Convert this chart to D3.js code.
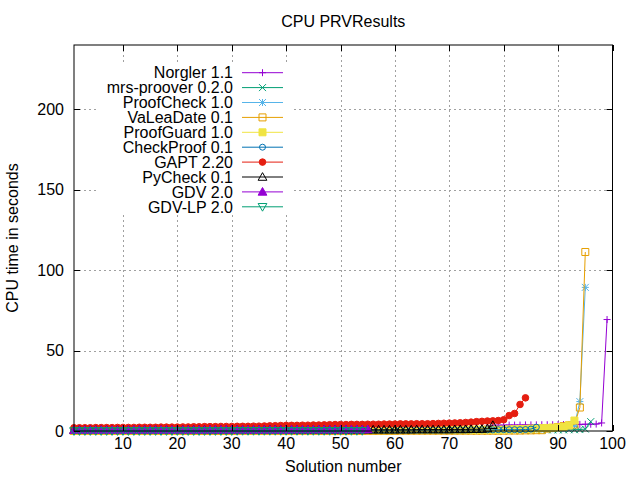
<!DOCTYPE html>
<html>
<head>
<meta charset="utf-8">
<script src="https://cdn.jsdelivr.net/npm/d3@7"></script>
<style>
  body { margin: 0; background: #fff; }
  svg { display: block; font-family: "Liberation Sans", Arial, sans-serif; }
</style>
</head>
<body>
<svg id="chart" width="640" height="480"></svg>
<script>
// --- values (sorted CPU times, index = solution number) ---
const norgler = [
  0.3,0.3,0.3,0.4,0.4,0.4,0.4,0.4,0.5,0.5,
  0.5,0.5,0.5,0.5,0.6,0.6,0.6,0.6,0.6,0.6,
  0.7,0.7,0.7,0.7,0.7,0.7,0.8,0.8,0.8,0.8,
  0.8,0.8,0.9,0.9,0.9,0.9,0.9,1.0,1.0,1.0,
  1.0,1.0,1.0,1.1,1.1,1.1,1.1,1.1,1.2,1.2,
  1.2,1.2,1.2,1.2,1.3,1.3,1.3,1.3,1.3,1.3,
  1.4,1.4,1.4,1.4,1.4,1.5,1.5,1.5,1.5,1.5,
  1.6,1.6,1.7,1.8,2.0,2.4,3.0,3.5,3.6,3.6,
  3.7,3.7,3.7,3.8,3.8,3.8,3.9,3.9,3.9,4.0,
  4.0,4.0,4.1,4.1,4.2,4.2,4.3,5.0,69.3
];
const mrsProover = [
  0.1,0.1,0.1,0.1,0.1,0.1,0.1,0.1,0.1,0.1,
  0.1,0.1,0.1,0.1,0.1,0.1,0.1,0.1,0.1,0.1,
  0.1,0.1,0.1,0.1,0.1,0.1,0.1,0.1,0.2,0.2,
  0.2,0.2,0.2,0.2,0.2,0.2,0.2,0.2,0.2,0.2,
  0.2,0.2,0.2,0.2,0.2,0.2,0.2,0.3,0.3,0.3,
  0.3,0.3,0.3,0.3,0.3,0.3,0.3,0.3,0.3,0.3,
  0.3,0.3,0.3,0.4,0.4,0.4,0.4,0.4,0.4,0.4,
  0.4,0.4,0.4,0.4,0.5,0.5,0.5,0.5,0.5,0.5,
  0.5,0.5,0.6,0.6,0.6,0.6,0.6,0.7,0.7,0.7,
  0.7,0.8,0.8,0.9,1.2,5.8
];
const proofCheck = [
  0.1,0.1,0.1,0.1,0.1,0.1,0.1,0.1,0.1,0.1,
  0.1,0.1,0.1,0.1,0.1,0.2,0.2,0.2,0.2,0.2,
  0.2,0.2,0.2,0.2,0.2,0.2,0.2,0.2,0.2,0.2,
  0.2,0.2,0.3,0.3,0.3,0.3,0.3,0.3,0.3,0.3,
  0.3,0.3,0.3,0.3,0.4,0.4,0.4,0.4,0.4,0.4,
  0.4,0.4,0.4,0.5,0.5,0.5,0.5,0.5,0.5,0.5,
  0.5,0.6,0.6,0.6,0.6,0.6,0.6,0.7,0.7,0.7,
  0.7,0.7,0.8,0.8,0.8,0.8,0.9,0.9,0.9,1.0,
  1.0,1.0,1.1,1.1,1.1,1.2,1.2,1.3,1.4,1.5,
  1.7,2.0,3.5,18.3,89.3
];
const vaLeaDate = [
  0.0,0.0,0.0,0.0,0.0,0.0,0.0,0.0,0.0,0.0,
  0.0,0.0,0.0,0.0,0.0,0.0,0.0,0.0,0.0,0.0,
  0.0,0.0,0.0,0.0,0.0,0.0,0.0,0.0,0.0,0.0,
  0.1,0.1,0.1,0.1,0.1,0.1,0.1,0.1,0.1,0.1,
  0.1,0.1,0.1,0.1,0.1,0.1,0.1,0.1,0.1,0.1,
  0.1,0.1,0.1,0.1,0.1,0.1,0.1,0.1,0.1,0.1,
  0.2,0.2,0.2,0.2,0.2,0.2,0.2,0.2,0.2,0.2,
  0.2,0.2,0.2,0.2,0.2,0.2,0.2,0.2,0.2,0.2,
  0.3,0.3,0.3,0.4,0.4,0.5,0.5,1.5,2.0,2.5,
  3.0,3.5,4.0,14.6,111.3
];
const proofGuard = [
  0.4,0.4,0.4,0.4,0.4,0.4,0.4,0.4,0.4,0.4,
  0.4,0.4,0.4,0.4,0.4,0.4,0.4,0.4,0.4,0.4,
  0.5,0.5,0.5,0.5,0.5,0.5,0.5,0.5,0.5,0.5,
  0.5,0.5,0.5,0.5,0.5,0.5,0.5,0.5,0.5,0.5,
  0.5,0.5,0.5,0.5,0.5,0.6,0.6,0.6,0.6,0.6,
  0.6,0.6,0.6,0.6,0.6,0.6,0.6,0.6,0.6,0.6,
  0.7,0.7,0.7,0.7,0.7,0.7,0.7,0.7,0.7,0.7,
  0.7,0.7,0.8,0.8,0.8,0.8,0.8,0.8,0.8,0.8,
  1.0,1.1,1.2,1.3,1.5,1.6,1.8,1.9,2.0,2.2,
  2.5,3.5,6.5
];
const checkProof = [
  0.2,0.2,0.2,0.2,0.2,0.2,0.2,0.2,0.2,0.2,
  0.3,0.3,0.3,0.3,0.3,0.3,0.3,0.3,0.3,0.3,
  0.3,0.3,0.3,0.3,0.3,0.3,0.3,0.3,0.3,0.3,
  0.4,0.4,0.4,0.4,0.4,0.4,0.4,0.4,0.4,0.4,
  0.4,0.4,0.4,0.4,0.4,0.5,0.5,0.5,0.5,0.5,
  0.5,0.5,0.5,0.5,0.5,0.5,0.5,0.5,0.5,0.5,
  0.6,0.6,0.6,0.6,0.6,0.6,0.6,0.6,0.6,0.6,
  0.7,0.7,0.7,0.7,0.7,0.7,0.7,0.7,0.8,0.8,
  0.8,0.8,0.8,0.9,1.2,2.4
];
const gapt = [
  2.0,2.0,2.0,2.0,2.1,2.1,2.1,2.1,2.2,2.2,
  2.2,2.2,2.3,2.3,2.3,2.3,2.4,2.4,2.4,2.4,
  2.5,2.5,2.6,2.6,2.7,2.7,2.7,2.8,2.8,2.8,
  2.9,2.9,2.9,3.0,3.0,3.1,3.2,3.3,3.4,3.5,
  3.5,3.5,3.6,3.6,3.7,3.7,3.8,3.9,4.0,4.0,
  4.0,4.1,4.1,4.1,4.2,4.2,4.2,4.3,4.3,4.3,
  4.4,4.4,4.4,4.5,4.5,4.5,4.6,4.7,4.8,4.9,
  5.0,5.1,5.3,5.5,5.8,6.0,6.2,6.3,6.5,7.0,
  9.6,10.9,16.5,20.6
];
const pyCheck = [
  0.5,0.5,0.5,0.5,0.5,0.5,0.5,0.5,0.5,0.5,
  0.5,0.5,0.5,0.5,0.5,0.5,0.5,0.5,0.5,0.5,
  0.6,0.6,0.6,0.6,0.6,0.6,0.6,0.6,0.6,0.6,
  0.6,0.6,0.6,0.6,0.6,0.7,0.7,0.7,0.7,0.7,
  0.7,0.7,0.7,0.7,0.7,0.7,0.7,0.7,0.7,0.7,
  0.7,0.7,0.7,0.8,0.8,0.8,0.8,0.8,0.8,0.8,
  0.8,0.8,0.8,0.9,0.9,0.9,0.9,0.9,0.9,0.9,
  1.0,1.0,1.0,1.1,1.1,1.2,1.5,3.6
];
const gdv = [
  0.5,0.5,0.5,0.5,0.5,0.5,0.5,0.5,0.5,0.5,
  0.6,0.6,0.6,0.6,0.6,0.6,0.6,0.6,0.6,0.6,
  0.6,0.6,0.6,0.6,0.6,0.7,0.7,0.7,0.7,0.7,
  0.7,0.7,0.7,0.7,0.7,0.7,0.7,0.7,0.7,0.7,
  0.8,0.8,0.8,0.8,0.8,0.8,0.8,0.8,0.8,0.8,
  0.9,0.9,0.9,0.9,1.0
];
const gdvLp = [
  0.0,0.0,0.0,0.0,0.0,0.0,0.0,0.0,0.0,0.0,
  0.0,0.0,0.0,0.0,0.0,0.0,0.0,0.0,0.0,0.0,
  0.0,0.0,0.0,0.0,0.0,0.0,0.0,0.0,0.0,0.0,
  0.1,0.1,0.1,0.1,0.1,0.1,0.1,0.1,0.1,0.1,
  0.1,0.1,0.1,0.1,0.1,0.1,0.1,0.1,0.1,0.1,
  0.1,0.1,0.1,0.1
];

const seriesNames = ["Norgler 1.1", "mrs-proover 0.2.0", "ProofCheck 1.0", "VaLeaDate 0.1",
  "ProofGuard 1.0", "CheckProof 0.1", "GAPT 2.20", "PyCheck 0.1", "GDV 2.0", "GDV-LP 2.0"];
const seriesValues = [norgler, mrsProover, proofCheck, vaLeaDate, proofGuard,
  checkProof, gapt, pyCheck, gdv, gdvLp];
const seriesColors = ["#9400d3", "#009e73", "#56b4e9", "#e69f00", "#f0e442",
  "#0072b2", "#e51e10", "#000000", "#9400d3", "#009e73"];
const seriesMarks = ["plus", "cross", "star", "square", "squareFill",
  "circle", "circleFill", "triangle", "triangleFill", "triangleDown"];

const xTicks = [10, 20, 30, 40, 50, 60, 70, 80, 90, 100];
const yTicks = [0, 50, 100, 150, 200];

// --- layout ---
const svg = d3.select("#chart");
const plotLeft = 74, plotRight = 612.5, plotTop = 45, plotBottom = 431;

const x = d3.scaleLinear().domain([1, 100]).range([plotLeft, plotRight]);
const y = d3.scaleLinear().domain([0, 240]).range([plotBottom, plotTop]);

// background
svg.append("rect").attr("width", 640).attr("height", 480).attr("fill", "#fff");

// grid (dotted, behind)
const grid = svg.append("g")
  .attr("stroke", "#a0a0a0").attr("stroke-width", 1)
  .attr("stroke-dasharray", "2,3");
grid.selectAll("line.gx").data(xTicks.filter(d => d < 100)).join("line")
  .attr("x1", d => Math.round(x(d)) + 0.5).attr("x2", d => Math.round(x(d)) + 0.5)
  .attr("y1", plotTop).attr("y2", plotBottom);
grid.selectAll("line.gy").data(yTicks.filter(d => d > 0)).join("line")
  .attr("x1", plotLeft).attr("x2", plotRight)
  .attr("y1", d => Math.round(y(d)) + 0.5).attr("y2", d => Math.round(y(d)) + 0.5);

// marker shapes, gnuplot-ish
function markPath(kind, h) {
  const t = h * 1.25;
  switch (kind) {
    case "plus": return `M${-h},0H${h}M0,${-h}V${h}`;
    case "cross": return `M${-h},${-h}L${h},${h}M${-h},${h}L${h},${-h}`;
    case "star": return `M${-h},0H${h}M0,${-h}V${h}M${-h},${-h}L${h},${h}M${-h},${h}L${h},${-h}`;
    case "square":
    case "squareFill": return `M${-h},${-h}H${h}V${h}H${-h}Z`;
    case "triangle":
    case "triangleFill": return `M0,${-t}L${t},${t * 0.75}L${-t},${t * 0.75}Z`;
    case "triangleDown": return `M0,${t}L${t},${-t * 0.75}L${-t},${-t * 0.75}Z`;
  }
  return "";
}
function drawMark(g, kind, color, cx, cy) {
  const h = 3.5;
  if (kind === "circle" || kind === "circleFill") {
    g.append("circle").attr("cx", cx).attr("cy", cy).attr("r", kind === "circleFill" ? 3.3 : 3)
      .attr("fill", kind === "circleFill" ? color : "none")
      .attr("stroke", color).attr("stroke-width", 1);
  } else {
    const filled = kind.endsWith("Fill");
    g.append("path").attr("d", markPath(kind, h))
      .attr("transform", `translate(${cx},${cy})`)
      .attr("fill", filled ? color : "none")
      .attr("stroke", color).attr("stroke-width", 1);
  }
}

// data series
const line = d3.line().x((d, i) => x(i + 1)).y(d => y(d));
const plot = svg.append("g");
seriesValues.forEach((vals, k) => {
  const g = plot.append("g");
  g.append("path").datum(vals).attr("d", line)
    .attr("fill", "none").attr("stroke", seriesColors[k]).attr("stroke-width", 1);
  vals.forEach((v, i) => drawMark(g, seriesMarks[k], seriesColors[k], x(i + 1), y(v)));
});

// border + ticks (inside, mirrored)
svg.append("rect").attr("x", plotLeft).attr("y", plotTop)
  .attr("width", plotRight - plotLeft).attr("height", plotBottom - plotTop)
  .attr("fill", "none").attr("stroke", "#000").attr("stroke-width", 1);
const ticks = svg.append("g").attr("stroke", "#000").attr("stroke-width", 1);
xTicks.forEach(d => {
  const px = Math.round(x(d)) + 0.5;
  ticks.append("line").attr("x1", px).attr("x2", px).attr("y1", plotBottom).attr("y2", plotBottom - 6);
  ticks.append("line").attr("x1", px).attr("x2", px).attr("y1", plotTop).attr("y2", plotTop + 6);
});
yTicks.forEach(d => {
  const py = Math.round(y(d)) + 0.5;
  ticks.append("line").attr("x1", plotLeft).attr("x2", plotLeft + 6).attr("y1", py).attr("y2", py);
  ticks.append("line").attr("x1", plotRight).attr("x2", plotRight - 6).attr("y1", py).attr("y2", py);
});

// tick labels
svg.append("g").selectAll("text").data(xTicks).join("text")
  .attr("x", d => x(d)).attr("y", 449)
  .attr("text-anchor", "middle").attr("font-size", 16).text(d => d);
svg.append("g").selectAll("text").data(yTicks).join("text")
  .attr("x", 64).attr("y", d => y(d) + 5.7)
  .attr("text-anchor", "end").attr("font-size", 16).text(d => d);

// titles
svg.append("text").attr("x", (plotLeft + plotRight) / 2).attr("y", 27)
  .attr("text-anchor", "middle").attr("font-size", 16).text("CPU PRVResults");
svg.append("text").attr("x", (plotLeft + plotRight) / 2).attr("y", 472)
  .attr("text-anchor", "middle").attr("font-size", 16).text("Solution number");
svg.append("text").attr("transform", "translate(18,238) rotate(-90)")
  .attr("text-anchor", "middle").attr("font-size", 16).text("CPU time in seconds");

// legend (opaque key box)
const key = svg.append("g");
key.append("rect").attr("x", 99).attr("y", 62).attr("width", 194).attr("height", 153)
  .attr("fill", "#fff");
seriesNames.forEach((name, k) => {
  const cy = 72.7 + k * 14.9;
  key.append("text").attr("x", 233).attr("y", cy + 5.7)
    .attr("text-anchor", "end").attr("font-size", 16).text(name);
  key.append("line").attr("x1", 242).attr("x2", 283).attr("y1", cy).attr("y2", cy)
    .attr("stroke", seriesColors[k]).attr("stroke-width", 1);
  drawMark(key, seriesMarks[k], seriesColors[k], 262.5, cy);
});
</script>
</body>
</html>
